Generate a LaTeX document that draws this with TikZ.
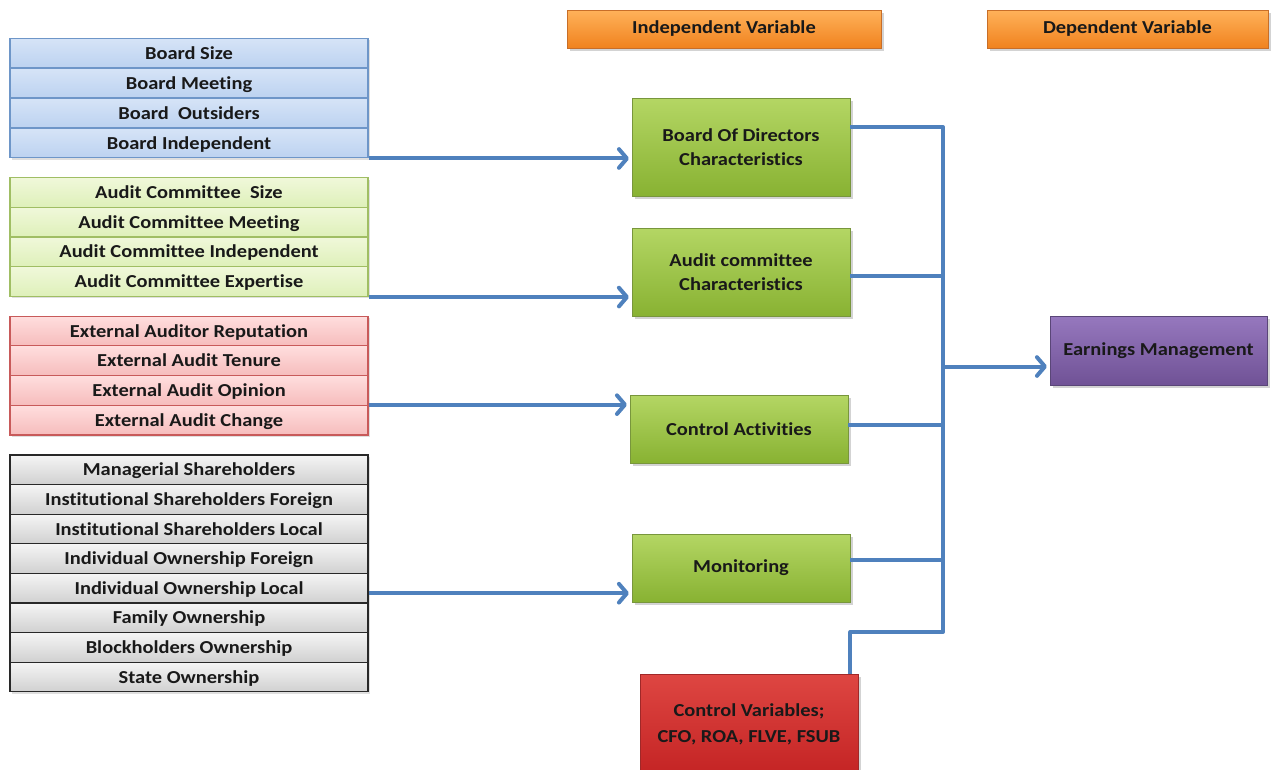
\documentclass[tikz,border=0pt]{standalone}
\usepackage{fontspec}
\setmainfont{Carlito}[FakeStretch=1.12, Ligatures={NoCommon}]
\usetikzlibrary{arrows.meta,shadows}

% colours
\definecolor{link}{RGB}{79,129,189}
\definecolor{ink}{RGB}{25,25,25}
\definecolor{blueA}{RGB}{214,228,247}\definecolor{blueB}{RGB}{188,210,240}\definecolor{blueL}{RGB}{110,150,200}
\definecolor{limeA}{RGB}{240,248,218}\definecolor{limeB}{RGB}{222,240,185}\definecolor{limeL}{RGB}{160,190,100}
\definecolor{pinkA}{RGB}{255,222,222}\definecolor{pinkB}{RGB}{246,188,188}\definecolor{pinkL}{RGB}{200,90,90}
\definecolor{greyA}{RGB}{245,245,245}\definecolor{greyB}{RGB}{208,208,208}\definecolor{greyL}{RGB}{40,40,40}
\definecolor{grnA}{RGB}{180,214,100}\definecolor{grnB}{RGB}{136,178,50}\definecolor{grnL}{RGB}{120,150,60}
\definecolor{orgA}{RGB}{255,178,90}\definecolor{orgB}{RGB}{240,130,30}\definecolor{orgL}{RGB}{200,110,40}
\definecolor{redA}{RGB}{222,70,66}\definecolor{redB}{RGB}{196,36,36}\definecolor{redL}{RGB}{160,40,40}
\definecolor{purA}{RGB}{150,120,190}\definecolor{purB}{RGB}{112,82,150}\definecolor{purL}{RGB}{90,70,120}

\tikzset{
  every node/.style={font=\bfseries\fontsize{13.7}{17.5}\selectfont, text=ink, align=center},
  row/.style={rectangle, inner sep=0pt, minimum width=268.5pt, minimum height=22.3pt, line width=0.9pt,
              text height=11pt, text depth=2pt,
              drop shadow={opacity=0.25, shadow xshift=1.5pt, shadow yshift=-1.5pt}},
  blue row/.style={row, draw=blueL, top color=blueA, bottom color=blueB},
  lime row/.style={row, draw=limeL, top color=limeA, bottom color=limeB},
  pink row/.style={row, draw=pinkL, top color=pinkA, bottom color=pinkB},
  grey row/.style={row, draw=greyL, top color=greyA, bottom color=greyB},
  block/.style={rectangle, inner sep=0pt, minimum width=163.5pt, line width=0.6pt,
                drop shadow={opacity=0.35, shadow xshift=2pt, shadow yshift=-2pt}},
  green block/.style={block, draw=grnL, top color=grnA, bottom color=grnB},
  header/.style={block, draw=orgL, top color=orgA, bottom color=orgB, minimum height=28.5pt},
  link line/.style={draw=link, line width=3pt, line join=round},
  link arrow/.style={link line, -{Straight Barb[length=6pt,width=14pt,line cap=round,line join=round]}, shorten >=2pt},
}

\begin{document}
\begin{tikzpicture}[x=0.75pt,y=-0.75pt]
\useasboundingbox (0,0) rectangle (1271,769);
\clip (0,0) rectangle (1271,769);

% headers
\node[header, minimum width=235.5pt] (hind) at (724,29) {Independent Variable};
\node[header, minimum width=210.75pt] (hdep) at (1127.5,29) {Dependent Variable};

% board of directors items
\node[blue row] (b1) at (189,53) {Board Size};
\node[blue row] (b2) at (189,83) {Board Meeting};
\node[blue row] (b3) at (189,113) {Board\ \ Outsiders};
\node[blue row] (b4) at (189,143) {Board Independent};

% audit committee items
\node[lime row] (a1) at (189,192.5) {Audit Committee\ \ Size};
\node[lime row] (a2) at (189,222.2) {Audit Committee Meeting};
\node[lime row] (a3) at (189,251.9) {Audit Committee Independent};
\node[lime row] (a4) at (189,281.6) {Audit Committee Expertise};

% external audit items
\node[pink row] (r1) at (189,331) {External Auditor Reputation};
\node[pink row] (r2) at (189,360.7) {External Audit Tenure};
\node[pink row] (r3) at (189,390.4) {External Audit Opinion};
\node[pink row] (r4) at (189,420.1) {External Audit Change};

% ownership items
\node[grey row] (g1) at (189,469.8) {Managerial Shareholders};
\node[grey row] (g2) at (189,499.4) {Institutional Shareholders Foreign};
\node[grey row] (g3) at (189,529.0) {Institutional Shareholders Local};
\node[grey row] (g4) at (189,558.6) {Individual Ownership Foreign};
\node[grey row] (g5) at (189,588.2) {Individual Ownership Local};
\node[grey row] (g6) at (189,617.8) {Family Ownership};
\node[grey row] (g7) at (189,647.4) {Blockholders Ownership};
\node[grey row] (g8) at (189,677.0) {State Ownership};

% independent variables
\node[green block, minimum height=73.5pt] (bod) at (741,147) {Board Of Directors\\Characteristics};
\node[green block, minimum height=66pt] (ac) at (741,272) {Audit committee\\Characteristics};
\node[green block, minimum height=51pt] (ca) at (739,429) {Control Activities};
\node[green block, minimum height=51pt] (mon) at (741,568) {Monitoring};

% control variables
\node[block, draw=redL, top color=redA, bottom color=redB, minimum height=75pt,
      font=\bfseries\fontsize{13.7}{19.5}\selectfont] (cv) at (749,724)
  {Control Variables;\\CFO, ROA, FLVE, FSUB};

% dependent variable
\node[block, draw=purL, top color=purA, bottom color=purB, minimum width=162.75pt, minimum height=51.75pt] (em) at (1158.5,350.5)
  {Earnings Management};

% items to constructs
\draw[link arrow] (b4.south east) -- (bod.west |- b4.south east);
\draw[link arrow] (a4.south east) -- (ac.west |- a4.south east);
\draw[link arrow] (r4.north east) -- (ca.west |- r4.north east);
\coordinate (gout) at ([yshift=-3.75pt]g5.east);
\draw[link arrow] (gout) -- (mon.west |- gout);

% collecting bus
\coordinate (bustop) at (943,127);
\coordinate (busbot) at (943,632);
\coordinate (acout) at ([yshift=-3pt]ac.east);
\coordinate (caout) at ([yshift=3pt]ca.east);
\coordinate (monout) at ([yshift=6pt]mon.east);
\draw[link line] ([yshift=15pt]bod.east) -- (bustop) -- (busbot) -| ([xshift=-6pt]cv.north east);
\draw[link line] (acout) -- (acout -| bustop);
\draw[link line] (caout) -- (caout -| bustop);
\draw[link line] (monout) -- (monout -| bustop);

% bus to outcome
\coordinate (emin) at ([yshift=-12pt]em.west);
\draw[link arrow] (bustop |- emin) -- (emin);
\end{tikzpicture}
\end{document}
